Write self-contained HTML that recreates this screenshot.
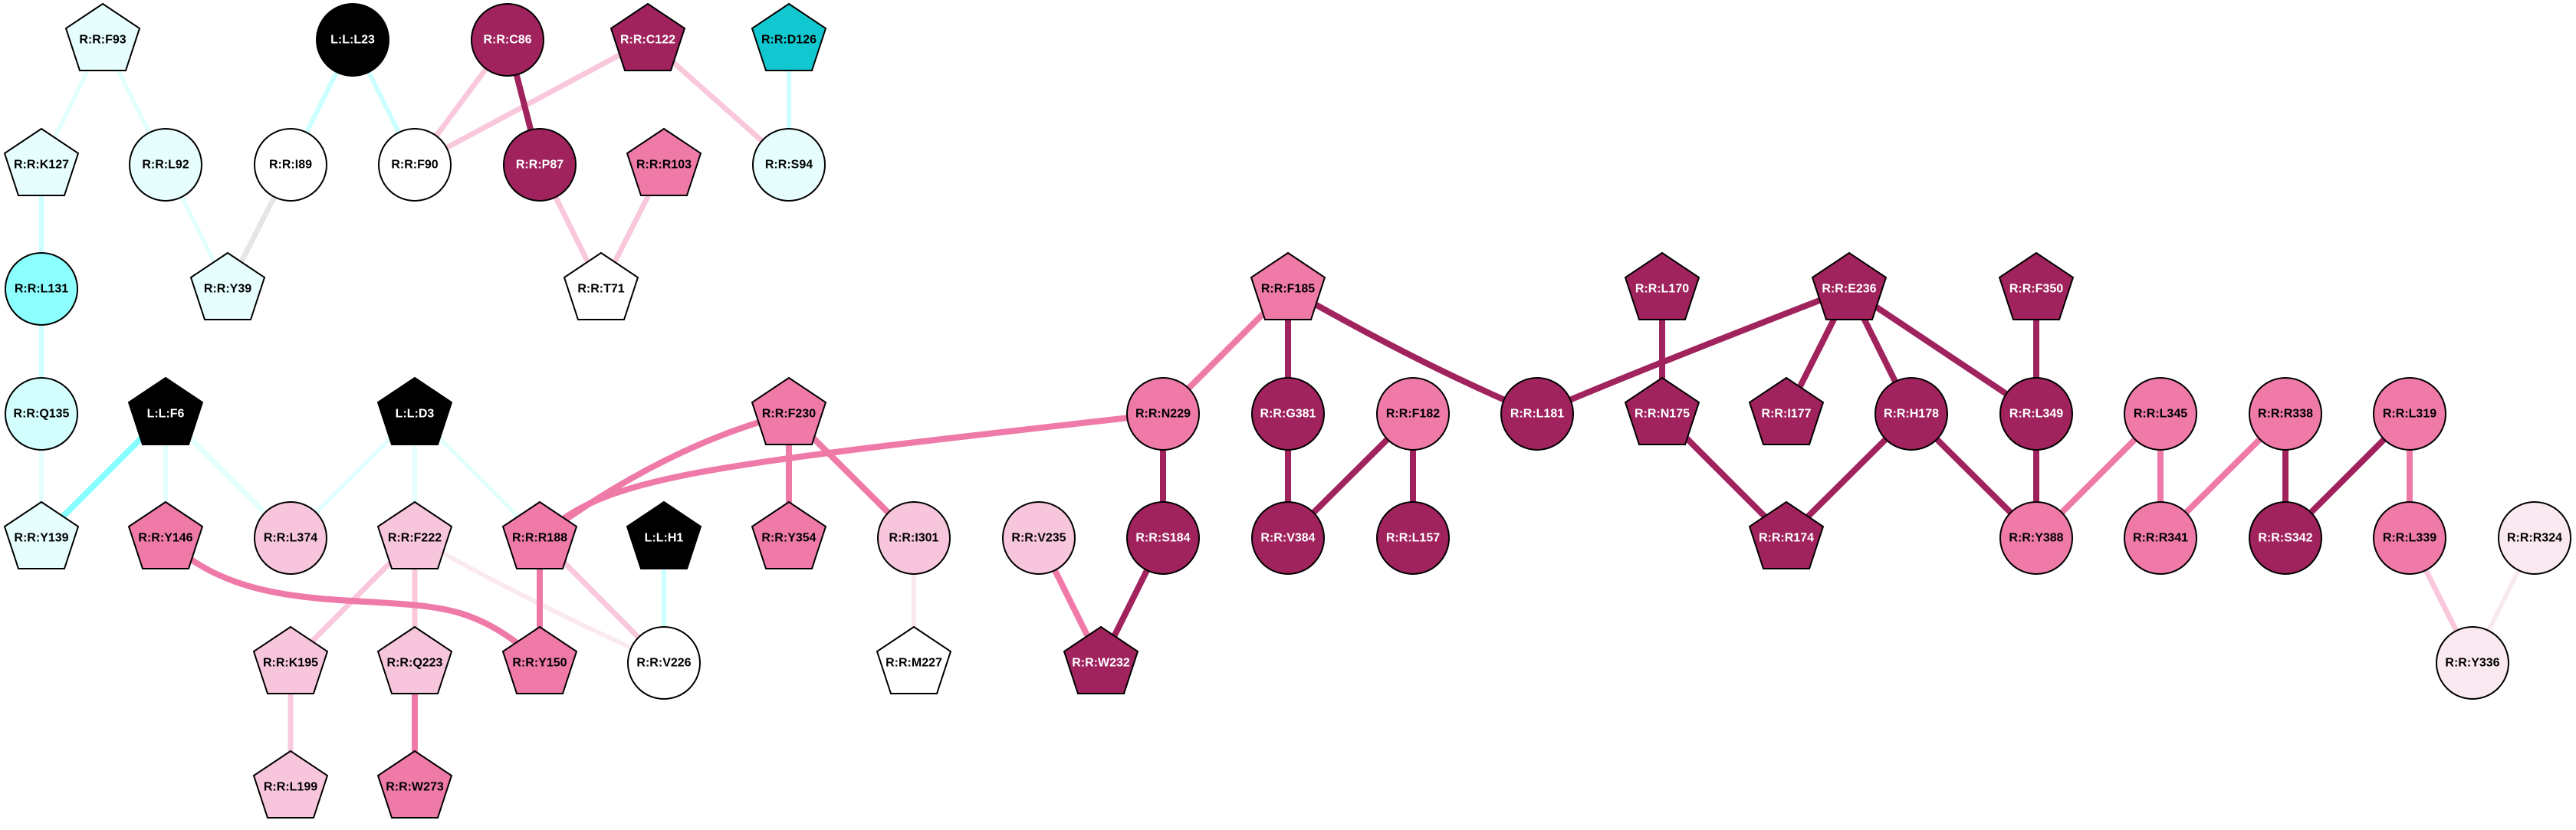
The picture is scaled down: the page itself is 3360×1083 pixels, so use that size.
<!DOCTYPE html>
<html><head><meta charset="utf-8"><style>
html,body{margin:0;padding:0;background:#fff;}
svg{display:block;}
text{font-family:"Liberation Sans",Arial,sans-serif;font-weight:bold;font-size:16px;text-anchor:middle;dominant-baseline:central;}
.w{fill:#fff}
</style></head><body>
<svg width="3360" height="1083" viewBox="0 0 3360 1083" xmlns="http://www.w3.org/2000/svg">
<defs>
<polygon id="p" points="0,-47 48,-15 30,40 -30,40 -48,-15" stroke="#000" stroke-width="2"/>
</defs>
<g fill="none" stroke-linecap="butt">
<g stroke="#e3fffe" stroke-width="6">
<line x1="134" y1="52" x2="54" y2="215"/>
<line x1="134" y1="52" x2="216" y2="215"/>
<line x1="216" y1="215" x2="297" y2="377"/>
<line x1="54" y1="540" x2="54" y2="702"/>
<line x1="216" y1="540" x2="216" y2="702"/>
<line x1="216" y1="540" x2="379" y2="702"/>
<line x1="541" y1="540" x2="379" y2="702"/>
<line x1="541" y1="540" x2="541" y2="702"/>
<line x1="541" y1="540" x2="704" y2="702"/>
</g>
<g stroke="#ccffff" stroke-width="6">
<line x1="460" y1="52" x2="379" y2="215"/>
<line x1="460" y1="52" x2="541" y2="215"/>
<line x1="1029" y1="52" x2="1029" y2="215"/>
<line x1="54" y1="215" x2="54" y2="377"/>
<line x1="54" y1="377" x2="54" y2="540"/>
<line x1="866" y1="702" x2="866" y2="865"/>
</g>
<line x1="216" y1="540" x2="54" y2="702" stroke="#88ffff" stroke-width="8"/>
<line x1="379" y1="215" x2="297" y2="377" stroke="#e6e6e6" stroke-width="7"/>
<g stroke="#f9c8dc" stroke-width="7">
<line x1="662" y1="52" x2="541" y2="215"/>
<line x1="845" y1="52" x2="541" y2="215"/>
<line x1="845" y1="52" x2="1029" y2="215"/>
<line x1="704" y1="215" x2="784" y2="377"/>
<line x1="866" y1="215" x2="784" y2="377"/>
<line x1="541" y1="702" x2="379" y2="865"/>
<line x1="541" y1="702" x2="541" y2="865"/>
<line x1="704" y1="702" x2="866" y2="865"/>
<line x1="379" y1="865" x2="379" y2="1027"/>
<line x1="3143" y1="702" x2="3225" y2="865"/>
</g>
<g stroke="#fbe9f1" stroke-width="6">
<path d="M541 702 Q700 790 866 865"/>
<line x1="1192" y1="702" x2="1192" y2="865"/>
<line x1="3306" y1="702" x2="3225" y2="865"/>
</g>
<g stroke="#ef7aa8" stroke-width="8">
<line x1="1680" y1="377" x2="1517" y2="540"/>
<path d="M704 702 C790 620 900 610 1517 540"/>
<path d="M704 702 Q870 580 1029 540"/>
<line x1="1029" y1="540" x2="1029" y2="702"/>
<line x1="1029" y1="540" x2="1192" y2="702"/>
<line x1="704" y1="702" x2="704" y2="865"/>
<path d="M216 702 C320 810 500 770 600 800 C650 815 690 850 704 865"/>
<line x1="541" y1="865" x2="541" y2="1027"/>
<line x1="1355" y1="702" x2="1436" y2="865"/>
<line x1="2818" y1="540" x2="2656" y2="702"/>
<line x1="2818" y1="540" x2="2818" y2="702"/>
<line x1="2981" y1="540" x2="2818" y2="702"/>
<line x1="3143" y1="540" x2="3143" y2="702"/>
</g>
<g stroke="#a0235e" stroke-width="8">
<line x1="662" y1="52" x2="704" y2="215"/>
<line x1="1680" y1="377" x2="1680" y2="540"/>
<path d="M1680 377 Q1860 480 2005 540"/>
<line x1="1680" y1="540" x2="1680" y2="702"/>
<line x1="1843" y1="540" x2="1680" y2="702"/>
<line x1="1843" y1="540" x2="1843" y2="702"/>
<line x1="1517" y1="540" x2="1517" y2="702"/>
<line x1="1517" y1="702" x2="1436" y2="865"/>
<line x1="2168" y1="377" x2="2168" y2="540"/>
<line x1="2168" y1="540" x2="2330" y2="702"/>
<path d="M2412 377 Q2120 490 2005 540"/>
<line x1="2412" y1="377" x2="2330" y2="540"/>
<line x1="2412" y1="377" x2="2493" y2="540"/>
<line x1="2412" y1="377" x2="2656" y2="540"/>
<line x1="2493" y1="540" x2="2330" y2="702"/>
<line x1="2493" y1="540" x2="2656" y2="702"/>
<line x1="2656" y1="377" x2="2656" y2="540"/>
<line x1="2656" y1="540" x2="2656" y2="702"/>
<line x1="2981" y1="540" x2="2981" y2="702"/>
<line x1="3143" y1="540" x2="2981" y2="702"/>
</g>
</g>

<g stroke="#000" stroke-width="2">
<use href="#p" x="134" y="52" fill="#e6fffe"/>
<ellipse cx="460" cy="52" rx="47" ry="47" fill="#000"/>
<ellipse cx="662" cy="52" rx="47" ry="47" fill="#a0235e"/>
<use href="#p" x="845" y="52" fill="#a0235e"/>
<use href="#p" x="1029" y="52" fill="#12c8d0"/>
<use href="#p" x="54" y="215" fill="#e6fffe"/>
<ellipse cx="216" cy="215" rx="47" ry="47" fill="#e6fffe"/>
<ellipse cx="379" cy="215" rx="47" ry="47" fill="#fff"/>
<ellipse cx="541" cy="215" rx="47" ry="47" fill="#fff"/>
<ellipse cx="704" cy="215" rx="47" ry="47" fill="#a0235e"/>
<use href="#p" x="866" y="215" fill="#ef7aa8"/>
<ellipse cx="1029" cy="215" rx="47" ry="47" fill="#e6fffe"/>
<ellipse cx="54" cy="377" rx="47" ry="47" fill="#8cffff"/>
<use href="#p" x="297" y="377" fill="#e6fffe"/>
<use href="#p" x="784" y="377" fill="#fff"/>
<use href="#p" x="1680" y="377" fill="#ef7aa8"/>
<use href="#p" x="2168" y="377" fill="#a0235e"/>
<use href="#p" x="2412" y="377" fill="#a0235e"/>
<use href="#p" x="2656" y="377" fill="#a0235e"/>
<ellipse cx="54" cy="540" rx="47" ry="47" fill="#d2fffe"/>
<use href="#p" x="216" y="540" fill="#000"/>
<use href="#p" x="541" y="540" fill="#000"/>
<use href="#p" x="1029" y="540" fill="#ef7aa8"/>
<ellipse cx="1517" cy="540" rx="47" ry="47" fill="#ef7aa8"/>
<ellipse cx="1680" cy="540" rx="47" ry="47" fill="#a0235e"/>
<ellipse cx="1843" cy="540" rx="47" ry="47" fill="#ef7aa8"/>
<ellipse cx="2005" cy="540" rx="47" ry="47" fill="#a0235e"/>
<use href="#p" x="2168" y="540" fill="#a0235e"/>
<use href="#p" x="2330" y="540" fill="#a0235e"/>
<ellipse cx="2493" cy="540" rx="47" ry="47" fill="#a0235e"/>
<ellipse cx="2656" cy="540" rx="47" ry="47" fill="#a0235e"/>
<ellipse cx="2818" cy="540" rx="47" ry="47" fill="#ef7aa8"/>
<ellipse cx="2981" cy="540" rx="47" ry="47" fill="#ef7aa8"/>
<ellipse cx="3143" cy="540" rx="47" ry="47" fill="#ef7aa8"/>
<use href="#p" x="54" y="702" fill="#e6fffe"/>
<use href="#p" x="216" y="702" fill="#ef7aa8"/>
<ellipse cx="379" cy="702" rx="47" ry="47" fill="#f8c6dc"/>
<use href="#p" x="541" y="702" fill="#f8c6dc"/>
<use href="#p" x="704" y="702" fill="#ef7aa8"/>
<use href="#p" x="866" y="702" fill="#000"/>
<use href="#p" x="1029" y="702" fill="#ef7aa8"/>
<ellipse cx="1192" cy="702" rx="47" ry="47" fill="#f8c6dc"/>
<ellipse cx="1355" cy="702" rx="47" ry="47" fill="#f8c6dc"/>
<ellipse cx="1517" cy="702" rx="47" ry="47" fill="#a0235e"/>
<ellipse cx="1680" cy="702" rx="47" ry="47" fill="#a0235e"/>
<ellipse cx="1843" cy="702" rx="47" ry="47" fill="#a0235e"/>
<use href="#p" x="2330" y="702" fill="#a0235e"/>
<ellipse cx="2656" cy="702" rx="47" ry="47" fill="#ef7aa8"/>
<ellipse cx="2818" cy="702" rx="47" ry="47" fill="#ef7aa8"/>
<ellipse cx="2981" cy="702" rx="47" ry="47" fill="#a0235e"/>
<ellipse cx="3143" cy="702" rx="47" ry="47" fill="#ef7aa8"/>
<ellipse cx="3306" cy="702" rx="47" ry="47" fill="#fbe9f1"/>
<use href="#p" x="379" y="865" fill="#f8c6dc"/>
<use href="#p" x="541" y="865" fill="#f8c6dc"/>
<use href="#p" x="704" y="865" fill="#ef7aa8"/>
<ellipse cx="866" cy="865" rx="47" ry="47" fill="#fff"/>
<use href="#p" x="1192" y="865" fill="#fff"/>
<use href="#p" x="1436" y="865" fill="#a0235e"/>
<ellipse cx="3225" cy="865" rx="47" ry="47" fill="#fbe9f1"/>
<use href="#p" x="379" y="1027" fill="#f8c6dc"/>
<use href="#p" x="541" y="1027" fill="#ef7aa8"/>
</g>

<g>
<text x="134" y="52">R:R:F93</text>
<text x="460" y="52" class="w">L:L:L23</text>
<text x="662" y="52" class="w">R:R:C86</text>
<text x="845" y="52" class="w">R:R:C122</text>
<text x="1029" y="52">R:R:D126</text>
<text x="54" y="215">R:R:K127</text>
<text x="216" y="215">R:R:L92</text>
<text x="379" y="215">R:R:I89</text>
<text x="541" y="215">R:R:F90</text>
<text x="704" y="215" class="w">R:R:P87</text>
<text x="866" y="215">R:R:R103</text>
<text x="1029" y="215">R:R:S94</text>
<text x="54" y="377">R:R:L131</text>
<text x="297" y="377">R:R:Y39</text>
<text x="784" y="377">R:R:T71</text>
<text x="1680" y="377">R:R:F185</text>
<text x="2168" y="377" class="w">R:R:L170</text>
<text x="2412" y="377" class="w">R:R:E236</text>
<text x="2656" y="377" class="w">R:R:F350</text>
<text x="54" y="540">R:R:Q135</text>
<text x="216" y="540" class="w">L:L:F6</text>
<text x="541" y="540" class="w">L:L:D3</text>
<text x="1029" y="540">R:R:F230</text>
<text x="1517" y="540">R:R:N229</text>
<text x="1680" y="540" class="w">R:R:G381</text>
<text x="1843" y="540">R:R:F182</text>
<text x="2005" y="540" class="w">R:R:L181</text>
<text x="2168" y="540" class="w">R:R:N175</text>
<text x="2330" y="540" class="w">R:R:I177</text>
<text x="2493" y="540" class="w">R:R:H178</text>
<text x="2656" y="540" class="w">R:R:L349</text>
<text x="2818" y="540">R:R:L345</text>
<text x="2981" y="540">R:R:R338</text>
<text x="3143" y="540">R:R:L319</text>
<text x="54" y="702">R:R:Y139</text>
<text x="216" y="702">R:R:Y146</text>
<text x="379" y="702">R:R:L374</text>
<text x="541" y="702">R:R:F222</text>
<text x="704" y="702">R:R:R188</text>
<text x="866" y="702" class="w">L:L:H1</text>
<text x="1029" y="702">R:R:Y354</text>
<text x="1192" y="702">R:R:I301</text>
<text x="1355" y="702">R:R:V235</text>
<text x="1517" y="702" class="w">R:R:S184</text>
<text x="1680" y="702" class="w">R:R:V384</text>
<text x="1843" y="702" class="w">R:R:L157</text>
<text x="2330" y="702" class="w">R:R:R174</text>
<text x="2656" y="702">R:R:Y388</text>
<text x="2818" y="702">R:R:R341</text>
<text x="2981" y="702" class="w">R:R:S342</text>
<text x="3143" y="702">R:R:L339</text>
<text x="3306" y="702">R:R:R324</text>
<text x="379" y="865">R:R:K195</text>
<text x="541" y="865">R:R:Q223</text>
<text x="704" y="865">R:R:Y150</text>
<text x="866" y="865">R:R:V226</text>
<text x="1192" y="865">R:R:M227</text>
<text x="1436" y="865" class="w">R:R:W232</text>
<text x="3225" y="865">R:R:Y336</text>
<text x="379" y="1027">R:R:L199</text>
<text x="541" y="1027">R:R:W273</text>
</g>
</svg>
</body></html>
